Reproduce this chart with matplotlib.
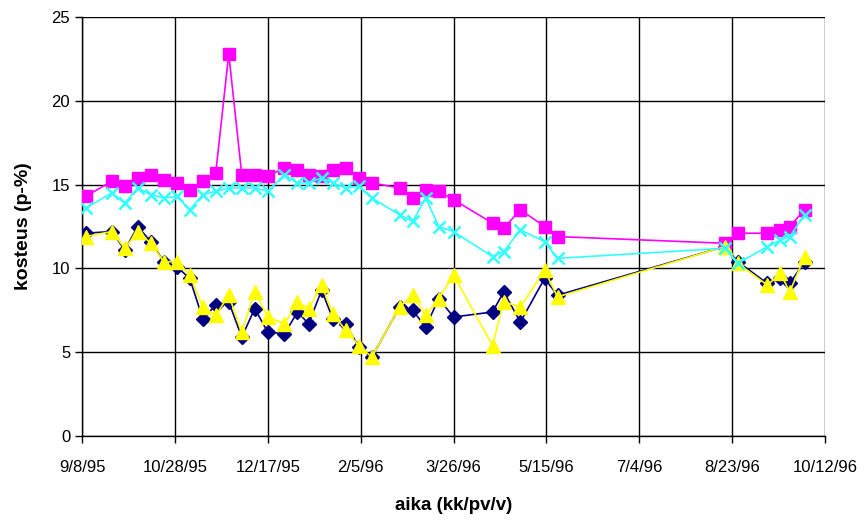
import numpy as np
import matplotlib
matplotlib.use("Agg")
import matplotlib.pyplot as plt
import matplotlib.dates as mdates
from matplotlib.ticker import FuncFormatter, MultipleLocator

plt.rcParams['font.family'] = ['Liberation Sans', 'DejaVu Sans']

# Sampling dates
dates = [
    "1995-09-10", "1995-09-24", "1995-10-01", "1995-10-08", "1995-10-15",
    "1995-10-22", "1995-10-29", "1995-11-05", "1995-11-12", "1995-11-19",
    "1995-11-26", "1995-12-03", "1995-12-10", "1995-12-17", "1995-12-26",
    "1996-01-02", "1996-01-08", "1996-01-15", "1996-01-21", "1996-01-28",
    "1996-02-04", "1996-02-11", "1996-02-26", "1996-03-04", "1996-03-11",
    "1996-03-18", "1996-03-26", "1996-04-16", "1996-04-22", "1996-05-01",
    "1996-05-14", "1996-05-21", "1996-08-19", "1996-08-26", "1996-09-11",
    "1996-09-18", "1996-09-23", "1996-10-01",
]

# Moisture content (p-%) per series
series_navy = [
    12.1, 12.2, 11.1, 12.5, 11.6, 10.4, 10.1, 9.4, 7.0, 7.8,
    8.0, 5.9, 7.6, 6.2, 6.1, 7.4, 6.7, 8.7, 7.0, 6.7,
    5.3, 4.7, 7.7, 7.5, 6.5, 8.2, 7.1, 7.4, 8.6, 6.8,
    9.4, 8.4, 11.3, 10.4, 9.1, 9.4, 9.1, 10.4,
]
series_magenta = [
    14.3, 15.2, 14.9, 15.4, 15.6, 15.3, 15.1, 14.7, 15.2, 15.7,
    22.8, 15.6, 15.6, 15.5, 16.0, 15.9, 15.6, 15.5, 15.9, 16.0,
    15.4, 15.1, 14.8, 14.2, 14.7, 14.6, 14.1, 12.7, 12.4, 13.5,
    12.5, 11.9, 11.5, 12.1, 12.1, 12.3, 12.5, 13.5,
]
series_yellow = [
    11.9, 12.2, 11.2, 12.2, 11.5, 10.4, 10.4, 9.6, 7.7, 7.2,
    8.4, 6.2, 8.6, 7.1, 6.7, 8.0, 7.6, 9.0, 7.3, 6.3,
    5.4, 4.7, 7.7, 8.4, 7.2, 8.2, 9.6, 5.4, 8.0, 7.7,
    9.9, 8.3, 11.3, 10.3, 9.0, 9.7, 8.6, 10.7,
]
series_cyan = [
    13.6, 14.5, 13.9, 14.8, 14.4, 14.2, 14.3, 13.5, 14.4, 14.6,
    14.8, 14.8, 14.8, 14.6, 15.6, 15.1, 15.1, 15.4, 15.1, 14.8,
    14.9, 14.2, 13.2, 12.8, 14.2, 12.5, 12.2, 10.7, 11.0, 12.3,
    11.6, 10.6, 11.2, 10.3, 11.3, 11.7, 11.9, 13.2,
]

x = np.array(dates, dtype="datetime64[D]")

fig = plt.figure(figsize=(8.66, 5.21), dpi=100)
ax = fig.add_axes([0.0947, 0.1631, 0.858, 0.8043])

lw = 1.2
ax.plot(x, series_navy, color="#000080", lw=lw, marker="D", ms=7.5,
        mfc="#000080", mec="#000080", zorder=3)
ax.plot(x, series_magenta, color="#FF00FF", lw=lw, marker="s", ms=9,
        mfc="#FF00FF", mec="#FF00FF", zorder=3)
ax.plot(x, series_yellow, color="#FFFF00", lw=lw, marker="^", ms=9.5,
        mfc="#FFFF00", mec="#FFFF00", zorder=3)
ax.plot(x, series_cyan, color="#33FFFF", lw=lw, marker="x", ms=9,
        mew=1.8, mec="#33FFFF", zorder=3)

start = np.datetime64("1995-09-08")
ticks = start + np.arange(0, 401, 50)
ax.set_xlim(mdates.date2num(ticks[0]), mdates.date2num(ticks[-1]))
ax.set_xticks(mdates.date2num(ticks))


def fmt_date(val, pos):
    d = mdates.num2date(val)
    return f"{d.month}/{d.day}/{d.year % 100:02d}"


ax.xaxis.set_major_formatter(FuncFormatter(fmt_date))
ax.set_ylim(0, 25)
ax.yaxis.set_major_locator(MultipleLocator(5))

ax.grid(True, color="#000000", lw=1.0)
ax.set_axisbelow(True)
for s in ["top", "right"]:
    ax.spines[s].set_visible(False)
for s in ["left", "bottom"]:
    ax.spines[s].set_color("#000000")
    ax.spines[s].set_linewidth(1.0)

ax.tick_params(axis="both", direction="out", length=5, width=1.0,
               labelsize=12, colors="#000000")
ax.tick_params(axis="x", pad=12)

ax.set_xlabel("aika (kk/pv/v)", fontsize=13.5, fontweight="bold", labelpad=16)
ax.set_ylabel("kosteus (p-%)", fontsize=14, fontweight="bold", labelpad=14)

fig.savefig("out.png", dpi=100)
